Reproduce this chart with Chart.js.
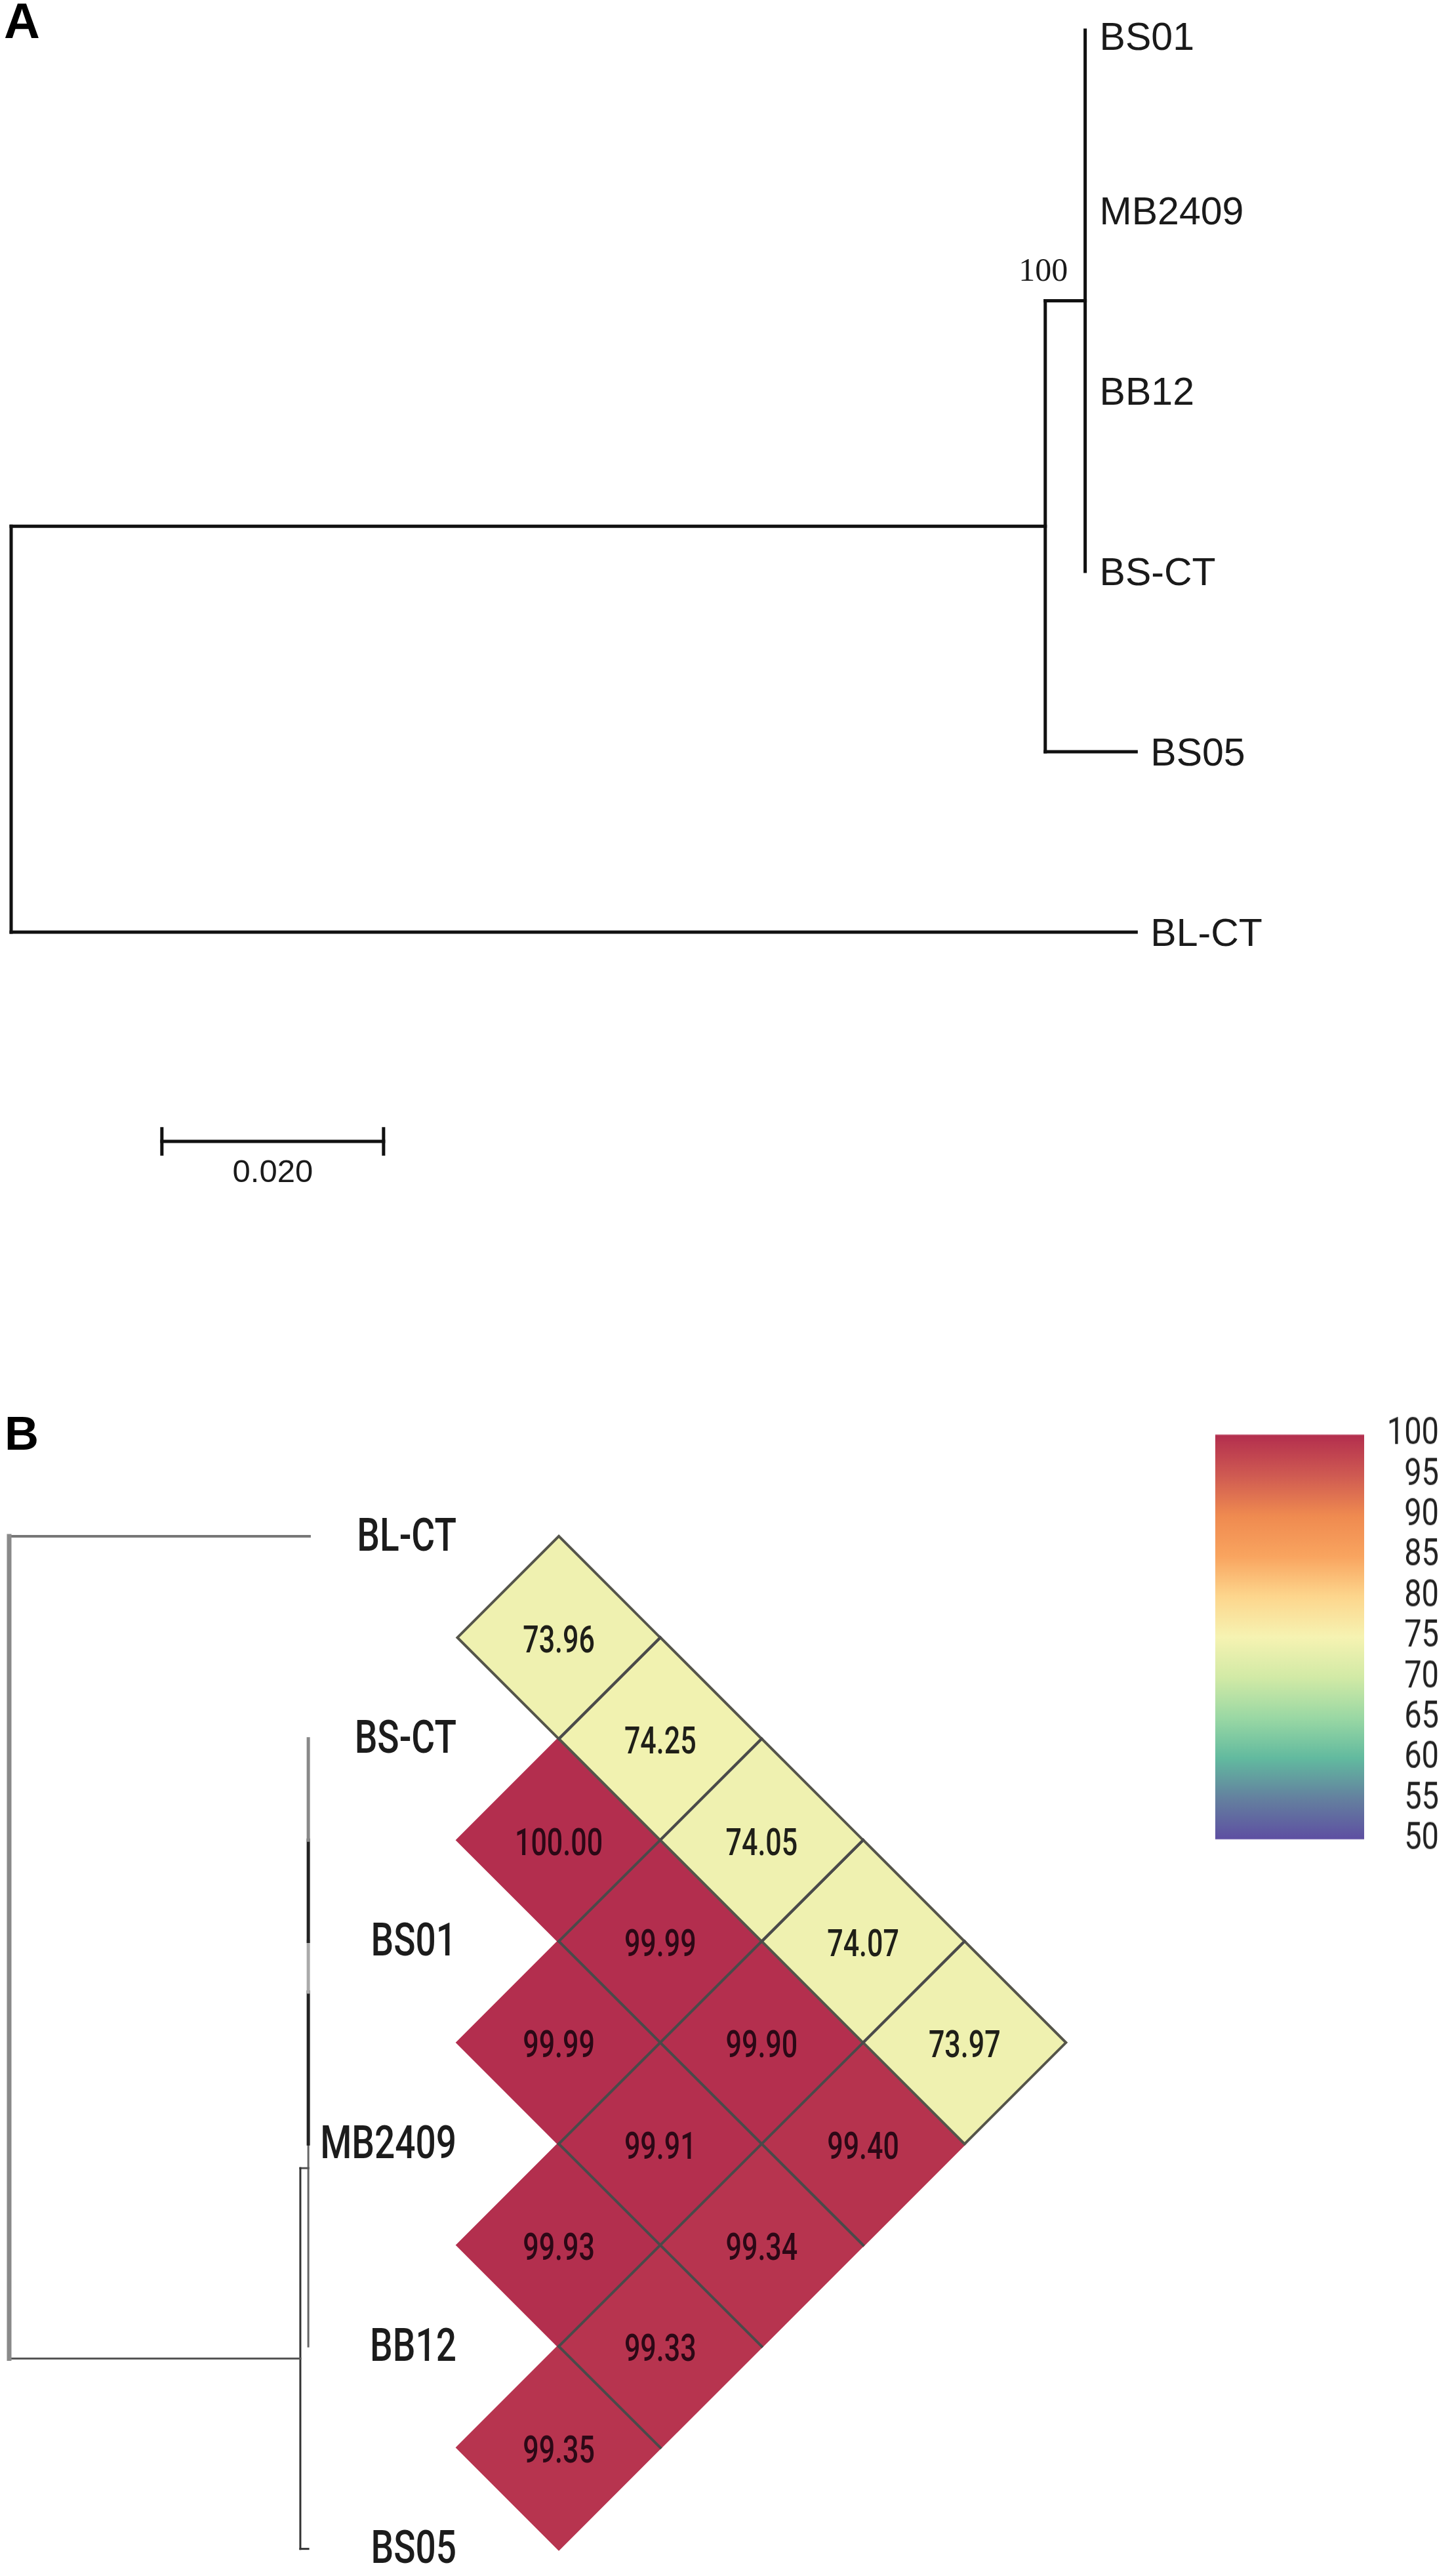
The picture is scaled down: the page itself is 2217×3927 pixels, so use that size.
<!DOCTYPE html>
<html>
<head>
<meta charset="utf-8">
<title>Phylogeny and ANI heatmap</title>
<script src="https://cdn.jsdelivr.net/npm/chart.js@4"></script>
<style>
  html, body { margin: 0; padding: 0; background: #fff; }
  #page { position: relative; width: 2217px; height: 3927px; overflow: hidden; }
  canvas { position: absolute; }
  #chartA { left: 0; top: 0; }
  #chartB { left: 0; top: 2000px; }
  #chartC { left: 1800px; top: 2130px; transform-origin: 0 0; transform: scaleY(1.25); }
</style>
</head>
<body>
<div id="page">
  <canvas id="chartA" width="2217" height="2000"></canvas>
  <canvas id="chartB" width="2217" height="1927"></canvas>
  <canvas id="chartC" width="394" height="576"></canvas>
</div>
<script>
// ==== Panel A : tree ====  x = distance, y = row of the tip
const taxaA     = ["BS01", "MB2409", "BB12", "BS-CT", "BS05", "BL-CT"];
const labelXA   = [0.0969, 0.0969, 0.0969, 0.0969, 0.1015, 0.1015];
const labelYA   = [0.03, 1, 2, 3, 4, 5];
const branchAx0 = [0, 0, 0, 0.0933, 0.0933, 0.0933, 0.0969];
const branchAx1 = [0, 0.0933, 0.1015, 0.0933, 0.1015, 0.0969, 0.0969];
const branchAy0 = [2.75, 2.75, 5, 1.5, 4, 1.5, 0];
const branchAy1 = [5, 2.75, 5, 4, 4, 1.5, 3];
const bootstrapLabel = "100";
const bootstrapX = 0.0933;
const bootstrapY = 1.34;
const scaleBarFrom = 0.0136;
const scaleBarLen  = 0.02;
const scaleBarRow  = 6.16;
const scaleBarCap  = 0.07;
const scaleBarText = "0.020";

// ==== Panel B : tree + identity matrix ====
const taxaB     = ["BL-CT", "BS-CT", "BS01", "MB2409", "BB12", "BS05"];
const branchBx0 = [0, 0, 0, 0.0984, 0.0984, 0.0984, 0.1011, 0.1011, 0.1011, 0.1011, 0.1011];
const branchBx1 = [0, 0.1015, 0.0984, 0.0984, 0.1011, 0.1011, 0.1011, 0.1011, 0.1011, 0.1011, 0.1011];
const branchBy0 = [0, 0, 4.06, 3.12, 3.12, 5, 1, 1.5, 2, 2.25, 3];
const branchBy1 = [4.06, 0, 4.06, 5, 3.12, 5, 1.5, 2, 2.25, 3, 4];
const branchBcolors = ["#8a8a8a", "#777", "#555", "#333", "#555", "#333", "#888", "#222", "#aaa", "#222", "#666"];
const branchBwidths = [7, 4, 3, 3, 3, 3, 5, 5, 5, 5, 3];

const pairI    = [0, 0, 0, 0, 0, 1, 1, 1, 1, 2, 2, 2, 3, 3, 4];
const pairJ    = [1, 2, 3, 4, 5, 2, 3, 4, 5, 3, 4, 5, 4, 5, 5];
const identity = [73.96, 74.25, 74.05, 74.07, 73.97, 100.00, 99.99, 99.90, 99.40, 99.99, 99.91, 99.34, 99.93, 99.33, 99.35];

// inner cell borders of the matrix (col,row)
const gridX0 = [1, 1, 1, 1, 1, 1, 1];
const gridY0 = [2, 3, 4, 1, 2, 3, 4];
const gridX1 = [4, 3, 2, 2, 3, 4, 5];
const gridY1 = [3.5, 4, 4.5, 0.5, 1, 1.5, 2];

// ==== colour bar ====
const barValues = [50, 55, 60, 65, 70, 75, 80, 85, 90, 95, 100];
const barColors = ["#5e4fa2", "#64809f", "#62ba9f", "#9ad8a4", "#d2eaa6", "#f6f3b2", "#fdd68d", "#f9a45f", "#ef8a50", "#cf5a52", "#b32e4e"];

// ==== layout ====
const CELL_RADIUS = 154.6;   // half diagonal of a cell
const DARK_LINE = "#4a4a4a";
const SANS = "'Liberation Sans', Arial, sans-serif";

function hexToRgb(h) {
  return [1, 3, 5].map(i => parseInt(h.substr(i, 2), 16));
}
function colorFor(v) {
  for (let i = 0; i < barValues.length - 1; i++) {
    if (v <= barValues[i + 1]) {
      const t = (v - barValues[i]) / (barValues[i + 1] - barValues[i]);
      const a = hexToRgb(barColors[i]), b = hexToRgb(barColors[i + 1]);
      return `rgb(${a.map((c, k) => Math.round(c + (b[k] - c) * t)).join(",")})`;
    }
  }
  return barColors[barColors.length - 1];
}

function drawText(ctx, str, x, y, font, color, align, stretch) {
  ctx.save();
  ctx.translate(x, y);
  ctx.scale(1, stretch || 1);
  ctx.font = font;
  ctx.fillStyle = color;
  ctx.textAlign = align;
  ctx.textBaseline = "middle";
  ctx.fillText(str, 0, 0);
  ctx.restore();
}

function lineSet(x0, y0, x1, y1, color, width, xAxisID, yAxisID) {
  return {
    type: "scatter",
    showLine: true,
    data: [{ x: x0, y: y0 }, { x: x1, y: y1 }],
    borderColor: color,
    borderWidth: width,
    borderCapStyle: "square",
    pointRadius: 0,
    clip: false,
    xAxisID, yAxisID
  };
}

const baseOptions = {
  responsive: false,
  animation: false,
  layout: { padding: 0, autoPadding: false },   // big point radius must not shrink the plot
  plugins: { legend: { display: false }, tooltip: { enabled: false } },
  events: []
};

/** Panel A */
const setsA = branchAx0.map((x0, i) =>
  lineSet(x0, branchAy0[i], branchAx1[i], branchAy1[i], "#111", 5, "x", "y"));
setsA.push(lineSet(scaleBarFrom, scaleBarRow, scaleBarFrom + scaleBarLen, scaleBarRow, "#111", 5, "x", "y"));
setsA.push(lineSet(scaleBarFrom, scaleBarRow - scaleBarCap, scaleBarFrom, scaleBarRow + scaleBarCap, "#111", 5, "x", "y"));
setsA.push(lineSet(scaleBarFrom + scaleBarLen, scaleBarRow - scaleBarCap, scaleBarFrom + scaleBarLen, scaleBarRow + scaleBarCap, "#111", 5, "x", "y"));

new Chart(document.getElementById("chartA"), {
  type: "scatter",
  data: { datasets: setsA },
  options: {
    ...baseOptions,
    layout: { autoPadding: false, padding: { left: 17, right: 3, top: 46, bottom: 166.5 } },
    scales: {
      x: { type: "linear", display: false, min: 0, max: 0.13 },
      y: { type: "linear", display: false, reverse: true, min: 0, max: 6.5 }
    }
  },
  plugins: [{
    id: "labelsA",
    afterDatasetsDraw(chart) {
      const { ctx, scales: { x, y } } = chart;
      drawText(ctx, "A", 6, 37, "bold 76px " + SANS, "#000", "left");
      taxaA.forEach((t, i) => {
        drawText(ctx, t, x.getPixelForValue(labelXA[i]) + 22, y.getPixelForValue(labelYA[i]) + 5, "59px " + SANS, "#1a1a1a", "left");
      });
      drawText(ctx, bootstrapLabel, x.getPixelForValue(bootstrapX) - 3, y.getPixelForValue(bootstrapY),
        "50px 'Liberation Serif', serif", "#1a1a1a", "center");
      drawText(ctx, scaleBarText, x.getPixelForValue(scaleBarFrom + scaleBarLen / 2), y.getPixelForValue(scaleBarRow) + 48,
        "49px " + SANS, "#1a1a1a", "center");
    }
  }]
});

/** Panel B : x = matrix column, tree = distance, y = row of the taxon */
const cells = identity.map((v, i) => ({ x: pairJ[i] - pairI[i], y: (pairI[i] + pairJ[i]) / 2, v }))
  .sort((a, b) => b.v - a.v);   // yellow cells last so their outline stays on top

const setsB = [];
gridX0.forEach((x0, i) => {
  setsB.push(lineSet(x0, gridY0[i], gridX1[i], gridY1[i], DARK_LINE, 4, "x", "y"));
});
branchBx0.forEach((x0, i) => {
  setsB.push(lineSet(x0, branchBy0[i], branchBx1[i], branchBy1[i], branchBcolors[i], branchBwidths[i], "tree", "y"));
});
// first dataset is drawn on top, so the cells go last
setsB.push({
  type: "scatter",
  data: cells,
  pointStyle: "rectRot",
  pointRadius: CELL_RADIUS,
  pointBackgroundColor: c => colorFor(c.raw.v),
  pointBorderColor: c => c.raw.v > 90 ? colorFor(c.raw.v) : "#55554a",
  pointBorderWidth: 4,
  clip: false,
  xAxisID: "x", yAxisID: "y"
});

new Chart(document.getElementById("chartB"), {
  type: "scatter",
  data: { datasets: setsB },
  options: {
    ...baseOptions,
    scales: {
      tree: { type: "linear", axis: "x", display: false, min: -0.0031, max: 0.4883 },
      x: { type: "linear", display: false, min: -4.509, max: 9.825 },
      y: { type: "linear", display: false, reverse: true, min: -1.108, max: 5.134 }
    }
  },
  plugins: [{
    id: "labelsB",
    afterDatasetsDraw(chart) {
      const { ctx, scales: { x, y } } = chart;
      drawText(ctx, "B", 7, 190, "bold 72px " + SANS, "#000", "left");
      taxaB.forEach((t, i) => {
        drawText(ctx, t, 696, y.getPixelForValue(i) + 4, "500 55px Roboto, sans-serif", "#1c1c1c", "right", 1.28);
      });
      cells.forEach(c => {
        const color = c.v > 90 ? "#2c0816" : "#1f1f18";
        drawText(ctx, c.v.toFixed(2), x.getPixelForValue(c.x), y.getPixelForValue(c.y) + 8,
          "500 43px Roboto, sans-serif", color, "center", 1.35);
      });
    }
  }]
});

/** Colour bar */
new Chart(document.getElementById("chartC"), {
  type: "bar",
  data: {
    labels: [""],
    datasets: [{
      data: [[barValues[0], barValues[barValues.length - 1]]],
      barPercentage: 1,
      categoryPercentage: 1,
      backgroundColor(c) {
        const area = c.chart.chartArea;
        if (!area) return barColors[0];
        const g = c.chart.ctx.createLinearGradient(0, area.bottom, 0, area.top);
        barValues.forEach((v, i) => g.addColorStop((v - 50) / 50, barColors[i]));
        return g;
      }
    }]
  },
  options: {
    ...baseOptions,
    layout: { autoPadding: false, padding: { left: 53, top: 45.6, bottom: 36.8 } },
    scales: {
      x: { display: false },
      y: {
        position: "right",
        min: 50,
        max: 100,
        afterFit(scale) { scale.width = 114; },
        grid: { display: false, drawTicks: false },
        border: { display: false },
        ticks: {
          stepSize: 5,
          autoSkip: false,
          crossAlign: "far",
          padding: 0,
          color: "#222",
          font: { family: "Roboto, sans-serif", size: 47 }
        }
      }
    }
  }
});
</script>
</body>
</html>
